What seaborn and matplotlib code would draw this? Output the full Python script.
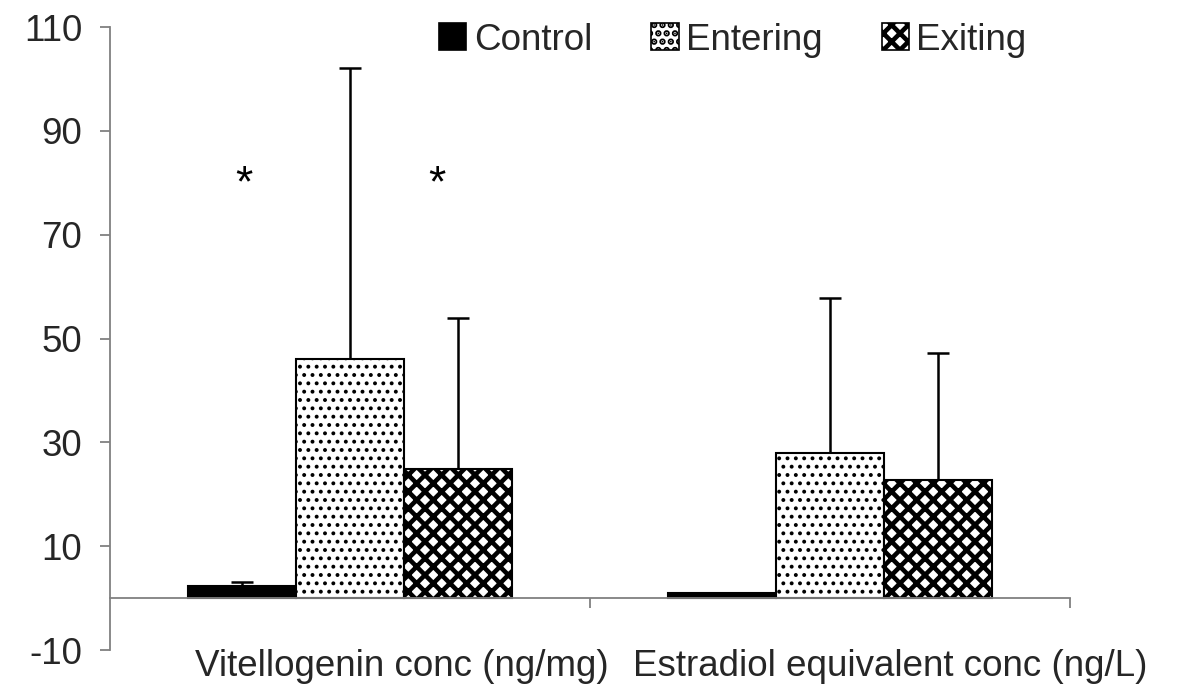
import numpy as np
import pandas as pd
import matplotlib
matplotlib.use("Agg")
import matplotlib.pyplot as plt
import matplotlib.transforms as mtransforms
from matplotlib.patches import Patch
import seaborn as sns

# Measured quantities and treatment groups
categories = ["Vitellogenin conc (ng/mg)", "Estradiol equivalent conc (ng/L)"]
groups = ["Control", "Entering", "Exiting"]

control_mean = [2.4, 0.9]
entering_mean = [46.0, 28.0]
exiting_mean = [24.9, 22.8]

control_sd = [0.7, 0.0]
entering_sd = [56.1, 29.9]
exiting_sd = [29.1, 24.5]

y_ticks = [-10, 10, 30, 50, 70, 90, 110]

# Significance markers: (category index offset, height)
star_x = [-0.221, 0.181]
star_y = [79.6, 79.6]

sns.set_theme(style="white")
plt.rcParams["font.family"] = ["Liberation Sans", "DejaVu Sans"]
plt.rcParams["hatch.linewidth"] = 3.3

FS = 26.5

df = pd.DataFrame({
    "category": categories * 3,
    "group": np.repeat(groups, len(categories)),
    "value": control_mean + entering_mean + exiting_mean,
})
sd_map = {"Control": control_sd, "Entering": entering_sd, "Exiting": exiting_sd}

fig = plt.figure(figsize=(11.8, 6.91), dpi=100)
ax = fig.add_axes([0.0932, 0.0593, 0.8136, 0.9016])

palette = {"Control": "black", "Entering": "white", "Exiting": "white"}
sns.barplot(data=df, x="category", y="value", hue="group", hue_order=groups,
            order=categories, palette=palette, saturation=1, edgecolor="black",
            linewidth=1.5, width=0.675, errorbar=None, legend=False, ax=ax)

hatches = {"Control": None, "Entering": "..", "Exiting": "xx"}
hatch_lw = {"Control": 1.0, "Entering": 1.6, "Exiting": 3.3}

for grp, cont in zip(groups, ax.containers):
    xs, hs = [], []
    for bar in cont:
        if hatches[grp]:
            bar.set_hatch(hatches[grp])
            if hasattr(bar, "set_hatch_linewidth"):
                bar.set_hatch_linewidth(hatch_lw[grp])
        if grp == "Entering" and hasattr(bar, "set_hatchcolor"):
            bar.set_hatchcolor("#555555")
        xs.append(bar.get_x() + bar.get_width() / 2)
        hs.append(bar.get_height())
    xs = np.array(xs)
    hs = np.array(hs)
    sd = np.array(sd_map[grp])
    keep = sd > 0
    if keep.any():
        # upper error only: stem from the bar top, cap at the end
        ax.vlines(xs[keep], hs[keep], hs[keep] + sd[keep], color="black",
                  linewidth=1.8, zorder=1)
        ax.plot(xs[keep], hs[keep] + sd[keep], linestyle="none", marker="_",
                markersize=16, markeredgewidth=1.8, color="black", zorder=1)

# Significance asterisks above the vitellogenin group
for sx, sy in zip(star_x, star_y):
    ax.text(sx, sy, "*", ha="center", va="center", fontsize=32, color="black")

# Axes styling
ax.set_xlim(-0.5, 1.5)
ax.set_ylim(-10, 110)
ax.set_yticks(y_ticks)
ax.set_yticklabels([str(t) for t in y_ticks], fontsize=FS)
ax.set_xticks([0.5, 1.5])
ax.set_xticklabels([])
ax.set_xlabel("")
ax.set_ylabel("")

for side in ["top", "right"]:
    ax.spines[side].set_visible(False)
ax.spines["bottom"].set_position(("data", 0))
for side in ["left", "bottom"]:
    ax.spines[side].set_color("#808080")
    ax.spines[side].set_linewidth(1.3)
ax.tick_params(axis="y", direction="out", length=7, width=1.3, color="#808080",
               left=True, pad=13)
ax.tick_params(axis="x", direction="out", length=7, width=1.3, color="#808080",
               bottom=True)

# Category labels along the bottom
trans = mtransforms.blended_transform_factory(ax.transData, fig.transFigure)
label_x = [0.108, 1.125]
for lx, lab in zip(label_x, categories):
    ax.text(lx, 0.036, lab, transform=trans, ha="center", va="center",
            fontsize=FS, clip_on=False)

# Legend
handles = []
for grp in groups:
    h = Patch(facecolor=palette[grp], edgecolor="black", linewidth=1.2,
              hatch=hatches[grp], label=grp)
    handles.append(h)
ax.legend(handles=handles, ncol=3, frameon=False, fontsize=FS,
          loc="center", bbox_to_anchor=(0.621, 0.942),
          bbox_transform=fig.transFigure, handlelength=0.75, handleheight=0.75,
          handletextpad=0.2, columnspacing=1.6)

fig.savefig("out.png", dpi=100)
